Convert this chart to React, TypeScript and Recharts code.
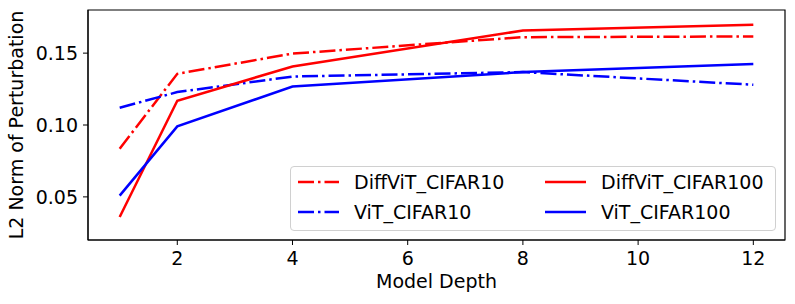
import { LineChart, Line, XAxis, YAxis, ReferenceArea } from "recharts";

const depths = [1, 2, 4, 8, 12];
const diffVitCifar10 = [0.0835, 0.1356, 0.1497, 0.1611, 0.1616];
const diffVitCifar100 = [0.036, 0.1169, 0.1407, 0.1657, 0.1697];
const vitCifar10 = [0.112, 0.1229, 0.1337, 0.1368, 0.128];
const vitCifar100 = [0.0509, 0.099, 0.1268, 0.1368, 0.1424];

const xTicks = [2, 4, 6, 8, 10, 12];
const yTicks = [0.05, 0.1, 0.15];

const data = depths.map((d, i) => ({
  depth: d,
  diff10: diffVitCifar10[i],
  diff100: diffVitCifar100[i],
  vit10: vitCifar10[i],
  vit100: vitCifar100[i],
}));

const FONT = "DejaVu Sans, sans-serif";
const DASHDOT = "16 4 2.5 4";

const legendItems = [
  { name: "DiffViT_CIFAR10", color: "#ff0000", dash: DASHDOT, x: 298, y: 182 },
  { name: "DiffViT_CIFAR100", color: "#ff0000", dash: undefined, x: 545, y: 182 },
  { name: "ViT_CIFAR10", color: "#0000ff", dash: DASHDOT, x: 298, y: 212 },
  { name: "ViT_CIFAR100", color: "#0000ff", dash: undefined, x: 545, y: 212 },
];

export default function App() {
  return (
    <div style={{ position: "absolute", left: 0, top: 0, width: 795, height: 304, fontFamily: FONT }}>
      <LineChart
        width={795}
        height={304}
        data={data}
        margin={{ top: 10, right: 10, left: 0, bottom: 0 }}
      >
        <XAxis
          dataKey="depth"
          type="number"
          domain={[0.45, 12.55]}
          ticks={xTicks}
          allowDataOverflow
          height={64}
          tickSize={5}
          tickMargin={7}
          stroke="#000"
          tick={{ fill: "#000", fontSize: 19, fontFamily: FONT }}
          label={{
            value: "Model Depth",
            position: "insideBottom",
            offset: 16,
            fill: "#000",
            fontSize: 19,
            fontFamily: FONT,
          }}
        />
        <YAxis
          type="number"
          domain={[0.02, 0.18]}
          ticks={yTicks}
          allowDataOverflow
          width={88}
          tickSize={5}
          tickMargin={5}
          stroke="#000"
          tickFormatter={(v: number) => v.toFixed(2)}
          tick={{ fill: "#000", fontSize: 19, fontFamily: FONT }}
          label={{
            value: "L2 Norm of Perturbation",
            angle: -90,
            position: "insideLeft",
            offset: 16,
            fill: "#000",
            fontSize: 19,
            fontFamily: FONT,
            style: { textAnchor: "middle" },
          }}
        />
        <ReferenceArea
          x1={0.45}
          x2={12.55}
          y1={0.02}
          y2={0.18}
          fill="none"
          stroke="#000"
          strokeWidth={1.2}
          ifOverflow="visible"
        />
        <Line
          dataKey="diff10"
          name="DiffViT_CIFAR10"
          stroke="#ff0000"
          strokeWidth={2.5}
          strokeDasharray={DASHDOT}
          dot={false}
          isAnimationActive={false}
        />
        <Line
          dataKey="vit10"
          name="ViT_CIFAR10"
          stroke="#0000ff"
          strokeWidth={2.5}
          strokeDasharray={DASHDOT}
          dot={false}
          isAnimationActive={false}
        />
        <Line
          dataKey="diff100"
          name="DiffViT_CIFAR100"
          stroke="#ff0000"
          strokeWidth={2.5}
          dot={false}
          isAnimationActive={false}
        />
        <Line
          dataKey="vit100"
          name="ViT_CIFAR100"
          stroke="#0000ff"
          strokeWidth={2.5}
          dot={false}
          isAnimationActive={false}
        />
      </LineChart>
      <div
        style={{
          position: "absolute",
          left: 290,
          top: 166,
          width: 486,
          height: 65,
          boxSizing: "border-box",
          border: "1px solid #d0d0d0",
          borderRadius: 4,
          background: "rgba(255,255,255,0.8)",
        }}
      />
      <svg
        width={795}
        height={304}
        style={{ position: "absolute", left: 0, top: 0, pointerEvents: "none" }}
      >
        {legendItems.map((it) => (
          <g key={it.name}>
            <line
              x1={it.x}
              x2={it.x + 41}
              y1={it.y}
              y2={it.y}
              stroke={it.color}
              strokeWidth={2.5}
              strokeDasharray={it.dash}
            />
            <text
              x={it.x + 56}
              y={it.y + 7}
              fontSize={19}
              fontFamily={FONT}
              fill="#000"
            >
              {it.name}
            </text>
          </g>
        ))}
      </svg>
    </div>
  );
}
